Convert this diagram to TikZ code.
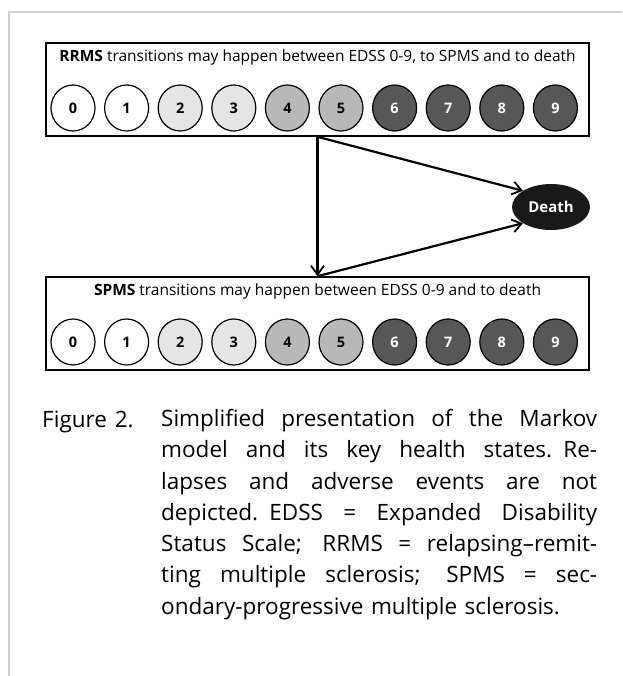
\documentclass[tikz,border=0pt]{standalone}
\usepackage{fontspec}
\setmainfont{Open Sans}
\usetikzlibrary{shapes.geometric,arrows.meta,positioning}
\definecolor{FrameGray}{gray}{0.82}
\definecolor{LightFill}{gray}{0.9}
\definecolor{MidFill}{gray}{0.72}
\definecolor{DarkFill}{gray}{0.34}
\definecolor{DeathFill}{gray}{0.1}
\newcommand{\capfont}{\fontsize{22.5}{31.3}\selectfont}
\newcommand{\capline}[1]{\hbox to \linewidth{\spaceskip=0.24em plus 1fil\relax #1}}

\begin{document}
\begin{tikzpicture}[x=1pt,y=-1pt,
    statebox/.style={draw, line width=1.6pt, minimum width=543pt, minimum height=93pt, inner sep=0pt},
    edss/.style={ellipse, draw, line width=1.2pt, minimum width=44pt, minimum height=46pt, inner sep=0pt, font=\fontsize{14.5}{14.5}\selectfont\bfseries},
    boxtitle/.style={font=\fontsize{15.5}{17}\selectfont, inner sep=0pt},
    trans/.style={line width=2.2pt, -{Straight Barb[length=9pt,width=13pt,line width=1.8pt]}}]
    \useasboundingbox (0,0) rectangle (622,676);
    \draw [FrameGray, line width=2.5pt] (9,676) -- (9,12) -- (622,12);

    % the two state boxes
    \node [statebox] (rrms) at (317.5,89.5) {};
    \node [statebox] (spms) at (317.5,323.5) {};
    \node [boxtitle] (rrmstitle) at (317.5,57) {\textbf{RRMS} transitions may happen between EDSS 0-9, to SPMS and to death};
    \node [boxtitle] (spmstitle) at (317.5,291) {\textbf{SPMS} transitions may happen between EDSS 0-9 and to death};
    \foreach \i/\fillc/\txtc in {0/white/black, 1/white/black, 2/LightFill/black, 3/LightFill/black, 4/MidFill/black,
        5/MidFill/black, 6/DarkFill/white, 7/DarkFill/white, 8/DarkFill/white, 9/DarkFill/white} {
        \node [edss, fill=\fillc, text=\txtc] (r\i) at (73+53.6*\i,108) {\i};
        \node [edss, fill=\fillc, text=\txtc] (s\i) at (73+53.6*\i,342) {\i};
    }
    \node [ellipse, fill=DeathFill, text=white, minimum width=78pt, minimum height=46pt, inner sep=0pt,
        font=\fontsize{15}{15}\selectfont\bfseries] (death) at (551,207) {Death};

    \draw [trans] (rrms.south) -- (spms.north);
    \draw [trans] (rrms.south) -- (death.150);
    \draw [trans] (spms.north) -- (death.210);

    % caption
    \node [anchor=base west, inner sep=0pt, font=\capfont] (figlabel) at (42,427) {Figure\hspace{0.35em}2.};
    \node [anchor=north west, inner sep=0pt, text width=436pt, font=\capfont] (caption) at (161,409) {%
        \capline{Simplified presentation of the Markov}
        \capline{model and its key health states. Re-}
        \capline{lapses and adverse events are not}
        \capline{depicted. EDSS = Expanded Disability}
        \capline{Status Scale; RRMS = relapsing--remit-}
        \capline{ting multiple sclerosis; SPMS = sec-}
        \hbox{ondary-progressive multiple sclerosis.}};
\end{tikzpicture}
\end{document}
